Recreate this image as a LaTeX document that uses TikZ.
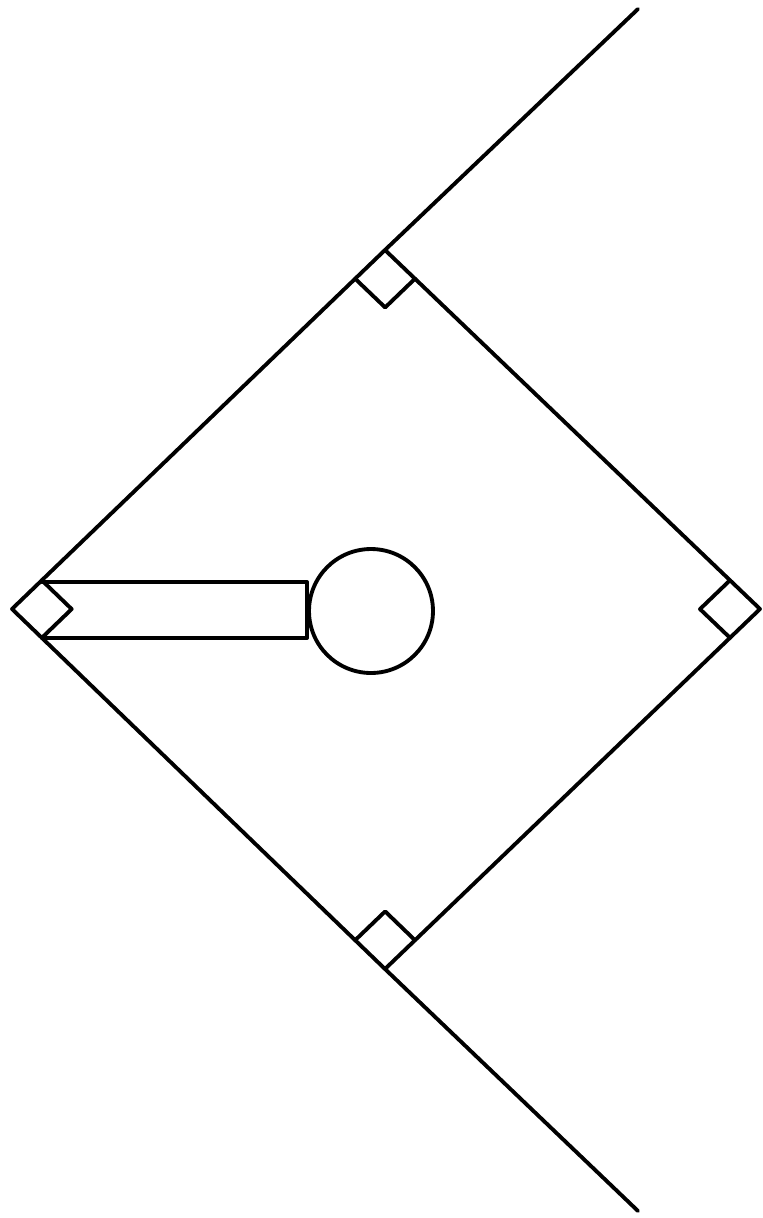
\documentclass[tikz,border=0pt]{standalone}
\usetikzlibrary{calc}
\begin{document}
\begin{tikzpicture}[x=0.02cm,y=-0.02cm,line width=2.2pt,line join=round,line cap=round,
  rightmark/.style={draw=black,line width=2.2pt}]
\useasboundingbox (0,0) rectangle (762,1218);
\coordinate (top) at (385,250);
\coordinate (lft) at (12,609);
\coordinate (bot) at (385,969);
\coordinate (rgt) at (760,609);
\coordinate (up) at (638,9);
\coordinate (down) at (638,1211);
\draw (up) -- (top) -- (lft) -- (bot) -- (down);
\draw (top) -- (rgt) -- (bot);
\foreach \v/\a/\b in {top/lft/rgt,lft/top/bot,bot/lft/rgt,rgt/top/bot}{
  \draw[rightmark] ($(\v)!0.08!(\a)$) -- ($($(\v)!0.08!(\a)$)+($(\v)!0.08!(\b)$)-(\v)$) -- ($(\v)!0.08!(\b)$);
}
\node[circle,draw,line width=2.2pt,minimum size=2.48cm,inner sep=0pt] (hole) at (371,611) {};
\draw (42,582) -- (307,582) -- (307,638) -- (42,638);
\end{tikzpicture}
\end{document}
